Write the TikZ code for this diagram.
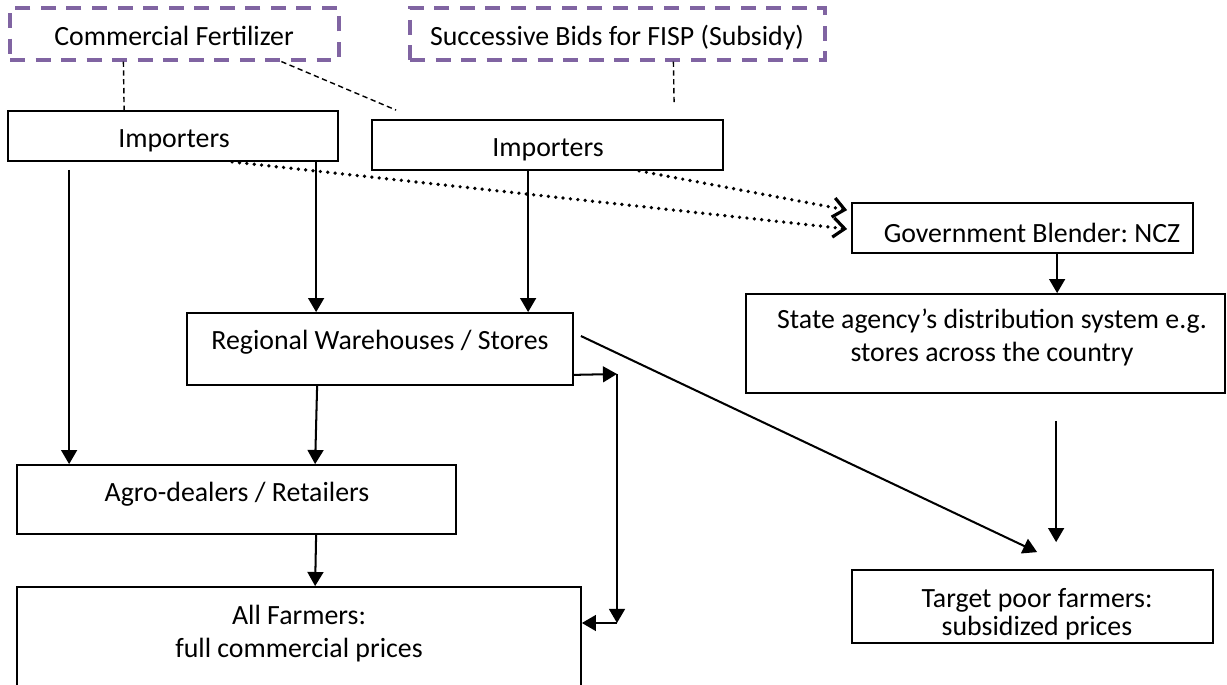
\documentclass[tikz,border=0pt]{standalone}
\usepackage{fontspec}
\setmainfont{Carlito}
\usetikzlibrary{arrows.meta,calc,fit}
\definecolor{cpurple}{HTML}{8064A2}
\frenchspacing
\newcommand\twolines[2]{\begin{tabular}[t]{@{}c@{}}#1\\#2\end{tabular}}
\begin{document}
\begin{tikzpicture}[x=0.5677pt,y=-0.5677pt,
  box/.style={draw, line width=1pt, inner sep=0pt},
  srcbox/.style={draw=cpurple, line width=1.8pt, dash pattern=on 8.5pt off 6pt, inner sep=0pt},
  lbl/.style={anchor=base, inner sep=0pt, font=\fontsize{15.8}{18.2}\selectfont},
  arr/.style={line width=1.15pt, -{Triangle[length=8pt,width=9pt]}},
  dotarr/.style={line width=2.1pt, line cap=round, dash pattern=on 0pt off 4.2pt,
     -{Straight Barb[length=6.5pt,width=11pt,line width=1.8pt]}},
  link/.style={line width=0.8pt, dash pattern=on 3pt off 2pt}]
\useasboundingbox (0,0) rectangle (1227,685);
\clip (0,0) rectangle (1227,685);

% boxes
\node[srcbox, fit={(10,8) (339,60)}] (cf) {};
\node[srcbox, fit={(410,8) (825,60)}] (bids) {};
\node[box, fit={(8,111) (338,161)}] (imp1) {};
\node[box, fit={(372,120) (723,170)}] (imp2) {};
\node[box, fit={(852,203) (1193,253)}] (ncz) {};
\node[box, fit={(746,294) (1225,393)}] (state) {};
\node[box, fit={(187,313) (573,385)}] (reg) {};
\node[box, fit={(17,465) (456,534)}] (agro) {};
\node[box, fit={(17,587) (581,720)}] (allf) {};
\node[box, fit={(852,570) (1213,643)}] (target) {};

% texts
\node[lbl] (cft) at (174,46) {Commercial Fertilizer};
\node[lbl] (bidst) at (617,46) {Successive Bids for FISP (Subsidy)};
\node[lbl] (imp1t) at (174,148) {Importers};
\node[lbl] (imp2t) at (548,157) {Importers};
\node[lbl] (nczt) at (1032,243) {Government Blender: NCZ};
\node[lbl] (statet) at (992,329) {\twolines{State agency’s distribution system e.g.}{stores across the country}};
\node[lbl] (regt) at (380,350) {Regional Warehouses / Stores};
\node[lbl] (agrot) at (237,502) {Agro-dealers / Retailers};
\node[lbl] (allft) at (299,625) {\twolines{All Farmers:}{full commercial prices}};
\node[lbl, font=\fontsize{15.8}{15.9}\selectfont] (targett) at (1037,607) {\twolines{Target poor farmers:}{subsidized prices}};

% dashed links
\draw[link] ($(cf.south west)+(115,0)$) -- ($(imp1.north west)+(117,0)$);
\draw[link] ($(cf.south west)+(273,0)$) -- ($(imp2.north west)+(25,-9)$);
\draw[link] ($(bids.south west)+(265,0)$) -- ($(imp2.north west)+(303,-15)$);

% solid arrows
\draw[arr] ($(imp1.south west)+(62,8)$) -- ($(agro.north west)+(53,0)$);
\draw[arr] ($(imp1.south west)+(309,0)$) -- ($(reg.north west)+(130,0)$);
\draw[arr] ($(imp2.south west)+(157,0)$) -- ($(reg.north west)+(342,0)$);
\draw[arr] ($(reg.south west)+(131,0)$) -- ($(agro.north west)+(299,0)$);
\draw[arr] ($(agro.south west)+(300,0)$) -- ($(allf.north west)+(299,0)$);

\coordinate (c1) at (617,374);
\coordinate (c2) at (617,623);
\draw[arr] ($(reg.south east)+(0,-11)$) -- (c1);
\draw[arr] (c1) -- (c2);
\draw[arr] (c2) -- (c2 -| allf.east);

\draw[arr] ($(reg.east)+(7,-13)$) -- ($(target.north west)+(186,-17)$);
\draw[arr] ($(ncz.south west)+(206,0)$) -- ($(state.north west)+(312,0)$);
\draw[arr] ($(state.south west)+(311,27)$) -- ($(target.north west)+(205,-27)$);

% dotted arrows
\draw[dotarr] ($(imp1.south west)+(225,0)$) -- ($(ncz.west)+(-4,1)$);
\draw[dotarr] ($(imp2.south west)+(268,0)$) -- ($(ncz.north west)+(-4,8)$);
\end{tikzpicture}
\end{document}
